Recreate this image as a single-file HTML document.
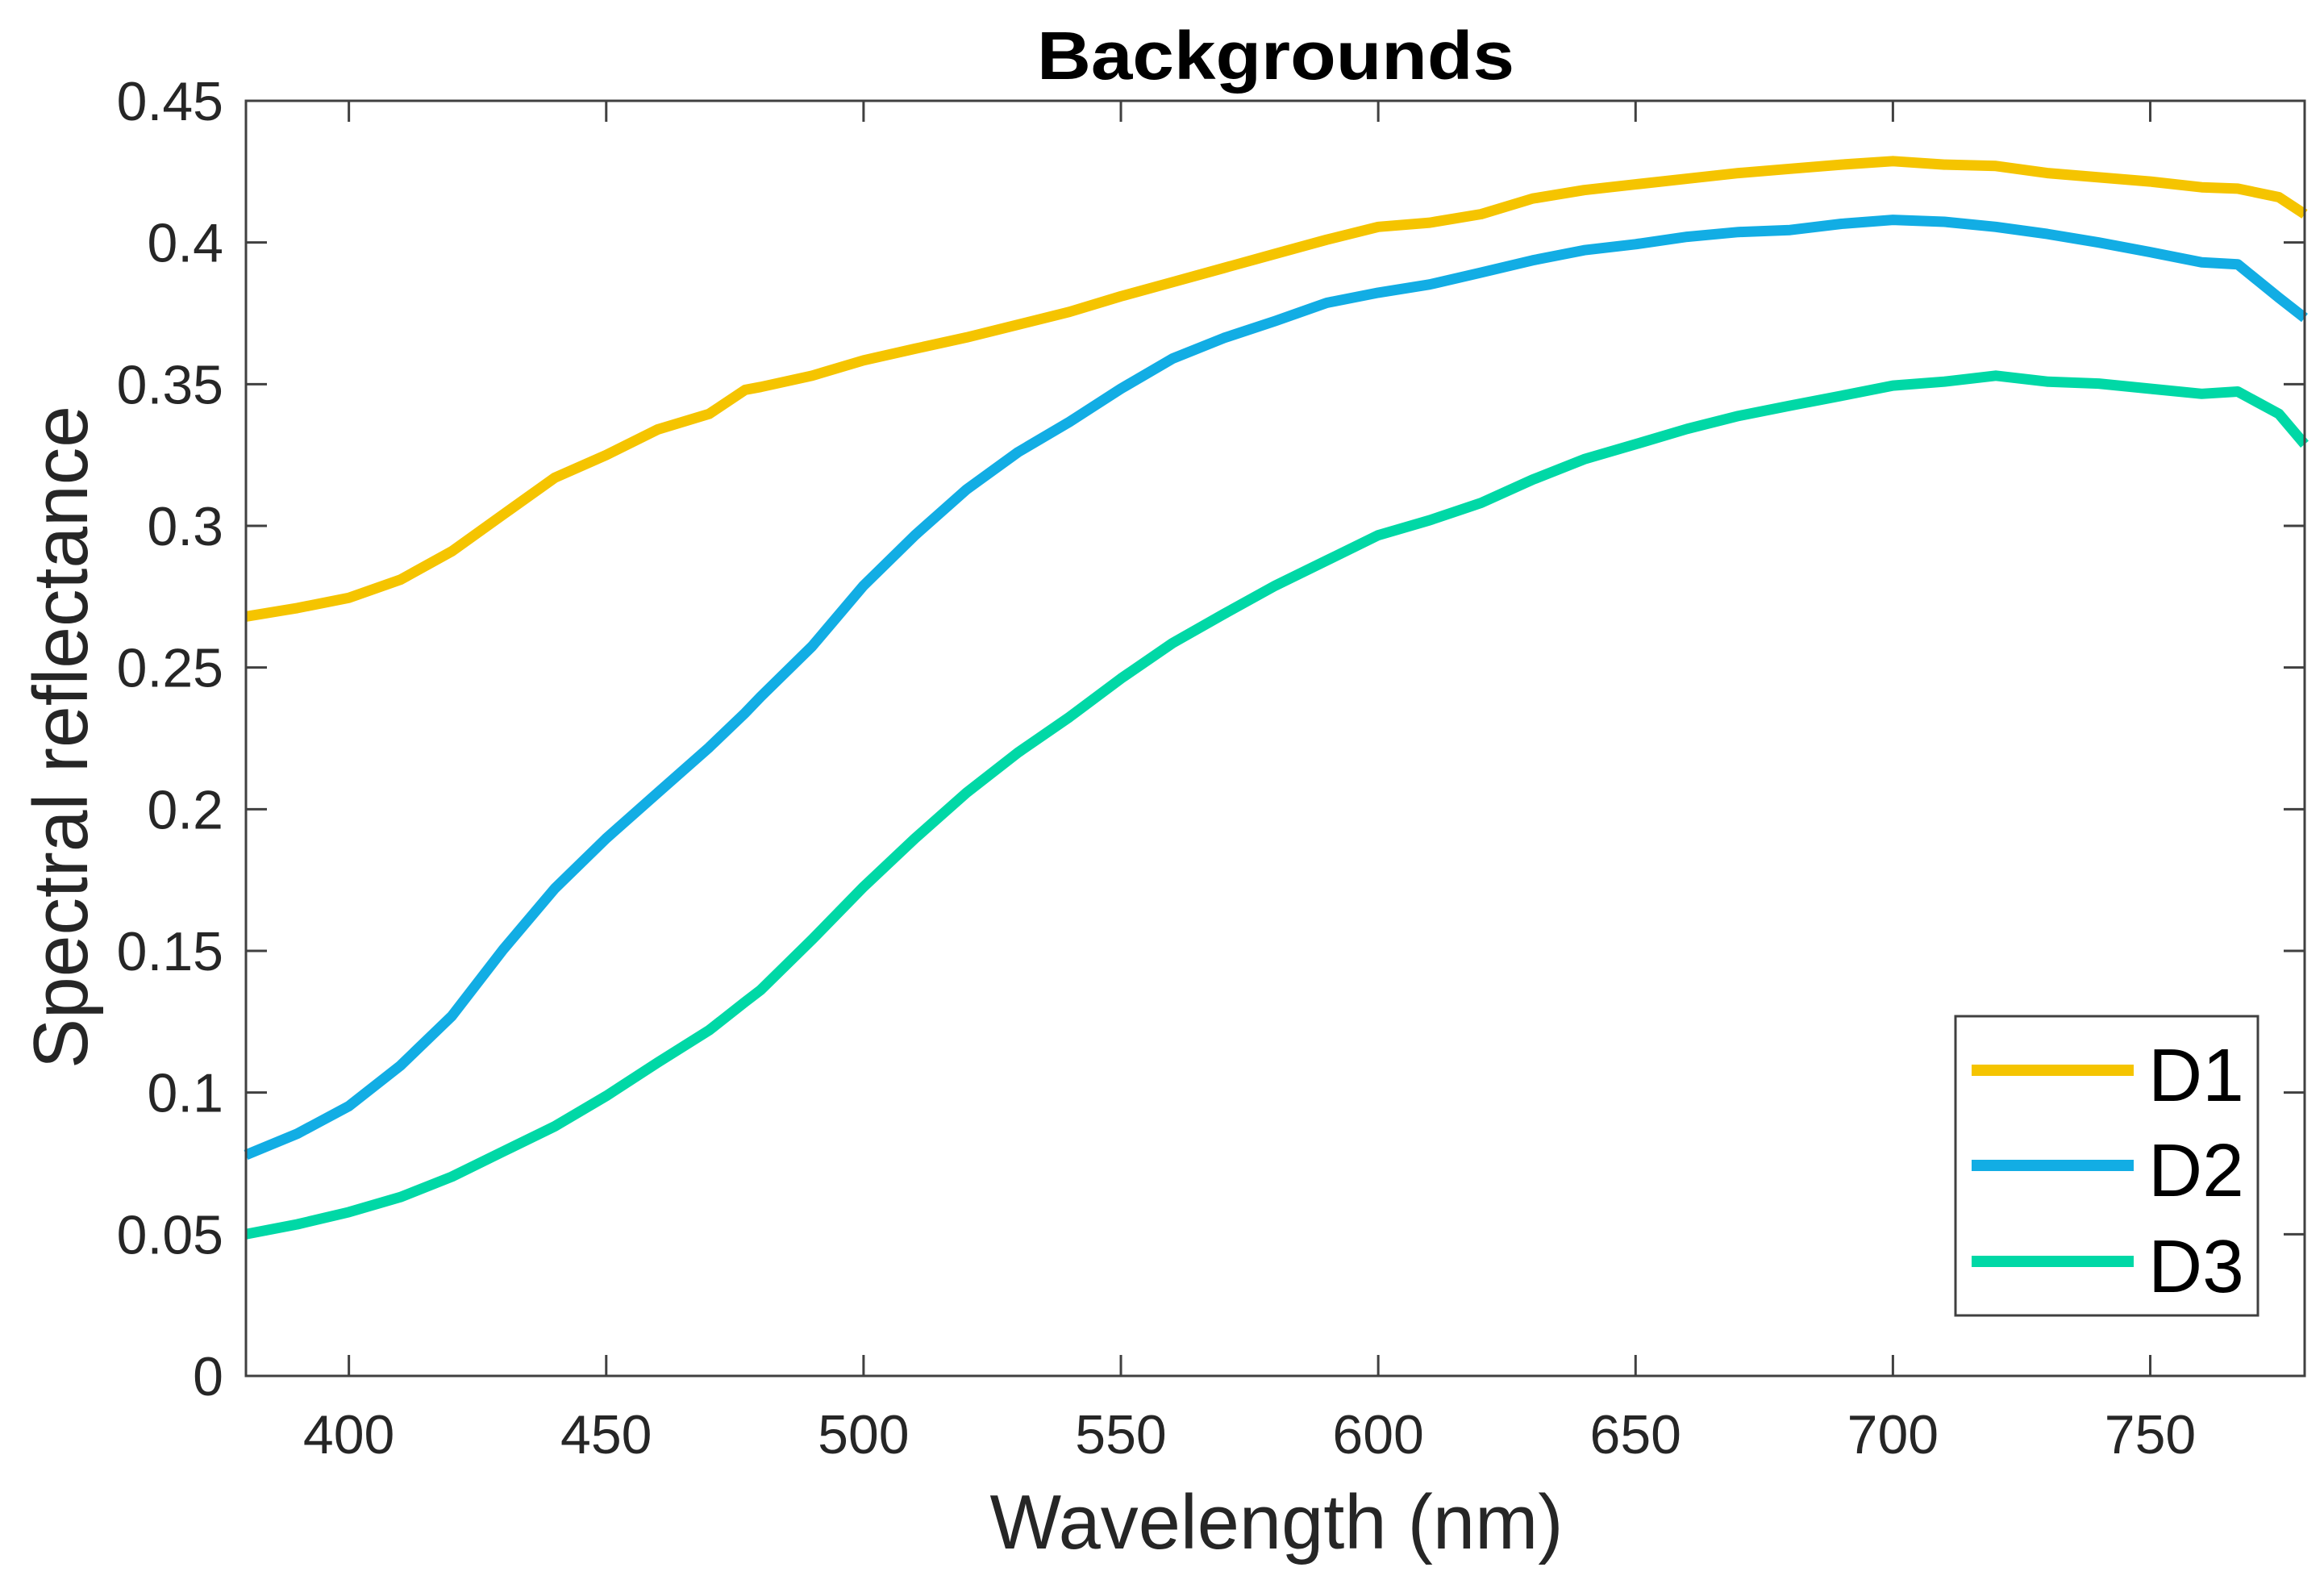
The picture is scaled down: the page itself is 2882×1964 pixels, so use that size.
<!DOCTYPE html>
<html><head><meta charset="utf-8"><style>
html,body{margin:0;padding:0;background:#fff;}
svg{display:block;font-family:"Liberation Sans",Arial,sans-serif;}
</style></head><body>
<svg id="chart" width="2882" height="1964" viewBox="0 0 2882 1964"></svg>
<script>
const wavelengths = [380,390,400,410,420,430,440,450,460,470,477,480,490,500,510,520,530,540,550,560,570,580,590,600,610,620,630,640,650,660,670,680,690,700,710,720,730,740,750,760,767,775,780];
const d1 = [0.268,0.271,0.2746,0.281,0.291,0.304,0.317,0.325,0.334,0.3395,0.348,0.349,0.353,0.3584,0.3625,0.3665,0.371,0.3755,0.381,0.386,0.391,0.396,0.401,0.4055,0.407,0.410,0.4155,0.4185,0.4205,0.4225,0.4245,0.426,0.4275,0.4287,0.4275,0.427,0.4245,0.423,0.4215,0.4195,0.419,0.416,0.410];
const d2 = [0.078,0.0855,0.0952,0.1095,0.127,0.1505,0.172,0.1897,0.2058,0.2218,0.234,0.2397,0.2575,0.2789,0.2967,0.3128,0.326,0.3367,0.3484,0.359,0.3663,0.3723,0.3787,0.3823,0.3852,0.3894,0.3937,0.3973,0.3994,0.402,0.4037,0.4044,0.4066,0.408,0.4073,0.4055,0.403,0.400,0.3966,0.393,0.3923,0.3805,0.3734];
const d3 = [0.050,0.0535,0.0578,0.0631,0.0703,0.0792,0.0881,0.0988,0.1106,0.122,0.132,0.1362,0.154,0.1726,0.1897,0.2058,0.220,0.2325,0.2461,0.2586,0.2689,0.2789,0.2878,0.2967,0.302,0.3081,0.3163,0.3235,0.3288,0.3342,0.3388,0.3424,0.3459,0.3495,0.3509,0.353,0.3509,0.3502,0.3484,0.3466,0.3474,0.3395,0.3288];
const xTicks = [400,450,500,550,600,650,700,750];
const yTicks = [0,0.05,0.1,0.15,0.2,0.25,0.3,0.35,0.4,0.45];
const yTickLabels = ["0","0.05","0.1","0.15","0.2","0.25","0.3","0.35","0.4","0.45"];
const seriesNames = ["D1","D2","D3"];

const NS="http://www.w3.org/2000/svg";
const svg=document.getElementById('chart');
const L=305,R=2858,T=125,B=1706,X0=380,X1=780,Y0=0,Y1=0.45;
function xs(v){return L+(v-X0)/(X1-X0)*(R-L);}
function ys(v){return B-(v-Y0)/(Y1-Y0)*(B-T);}
function mk(tag,attrs){const e=document.createElementNS(NS,tag);for(const k in attrs)e.setAttribute(k,attrs[k]);svg.appendChild(e);return e;}

// ticks
const axc="#404040";
xTicks.forEach(v=>{
  const x=xs(v);
  const t1=mk('line',{x1:x,x2:x,y1:B,y2:B-26,stroke:axc,'stroke-width':3});
  
  
  const t2=mk('line',{x1:x,x2:x,y1:T,y2:T+26,stroke:axc,'stroke-width':3});
  
  
  const lb=mk('text',{x:x,y:1802,'font-size':68,fill:'#262626','text-anchor':'middle'});
  lb.textContent=v;
  
  
});
yTicks.forEach((v,i)=>{
  const y=ys(v);
  const t1=mk('line',{x1:L,x2:L+26,y1:y,y2:y,stroke:axc,'stroke-width':3});
  
  
  const t2=mk('line',{x1:R,x2:R-26,y1:y,y2:y,stroke:axc,'stroke-width':3});
  
  
  const lb=mk('text',{x:277,y:y+24,'font-size':68,fill:'#262626','text-anchor':'end'});
  lb.textContent=yTickLabels[i];
  
  
});

// series
const colors=["#F5C400","#12ADE4","#00D8A6"];
[d1,d2,d3].forEach((s,k)=>{
  const pts=wavelengths.map((w,i)=>xs(w).toFixed(1)+','+ys(s[i]).toFixed(1)).join(' ');
  const pl=mk('polyline',{points:pts,fill:'none',stroke:colors[k],'stroke-width':13,'stroke-linejoin':'round','stroke-linecap':'butt'});
  
  
});

// axes box
const box=mk('rect',{x:L,y:T,width:R-L,height:B-T,fill:'none',stroke:axc,'stroke-width':3});



// legend
const lg=mk('rect',{x:2425,y:1260,width:375,height:371,fill:'#fff',stroke:'#404040','stroke-width':3});


const ly=[1327,1445,1564];
seriesNames.forEach((n,k)=>{
  const l=mk('line',{x1:2445,x2:2646,y1:ly[k],y2:ly[k],stroke:colors[k],'stroke-width':14});
  
  
  const t=mk('text',{x:2664,y:ly[k]+38,'font-size':93,fill:'#000'});
  t.textContent=n;
  
  
});

// title & axis labels
const tt=mk('text',{x:1582,y:98,'font-size':84,'font-weight':'bold',fill:'#000','text-anchor':'middle',textLength:592,lengthAdjust:'spacingAndGlyphs'});
tt.textContent="Backgrounds";


const xl=mk('text',{x:1583,y:1920,'font-size':96,fill:'#262626','text-anchor':'middle',textLength:711,lengthAdjust:'spacingAndGlyphs'});
xl.textContent="Wavelength (nm)";


const yl=mk('text',{x:0,y:0,'font-size':96,fill:'#262626','text-anchor':'middle',transform:'translate(108,914) rotate(-90)',textLength:822,lengthAdjust:'spacingAndGlyphs'});
yl.textContent="Spectral reflectance";


</script>
</body></html>
